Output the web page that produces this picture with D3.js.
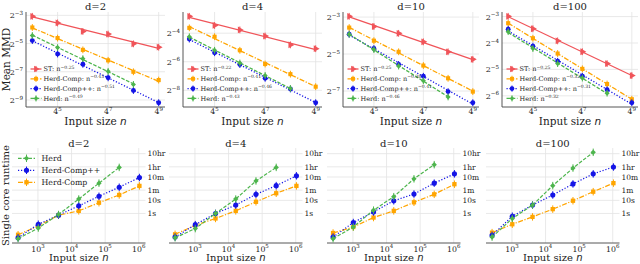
<!DOCTYPE html>
<html>
<head>
<meta charset="utf-8">
<script src="https://cdn.jsdelivr.net/npm/d3@7"></script>
<style>
  body { margin: 0; background: #fff; }
  text { font-family: "DejaVu Serif", serif; fill: #222; }
</style>
</head>
<body>
<svg id="chart" width="640" height="264"></svg>
<script>
// ---- data ----

const dims = ["d=2", "d=4", "d=10", "d=100"];

// MMD experiments: input sizes 4^4 .. 4^9 (Herd stops at 4^8)
const mmdSizes = [256, 1024, 4096, 16384, 65536, 262144];

const stMMD = [
  [0.1191, 0.0860, 0.0567, 0.0497, 0.0308, 0.0261],
  [0.1416, 0.0909, 0.0733, 0.0544, 0.0354, 0.0294],
  [0.1285, 0.0878, 0.0679, 0.0494, 0.0340, 0.0256],
  [0.1259, 0.0909, 0.0661, 0.0497, 0.0364, 0.0266],
];
const herdCompMMD = [
  [0.0688, 0.0409, 0.0229, 0.0137, 0.00781, 0.00519],
  [0.0808, 0.0526, 0.0272, 0.01398, 0.00855, 0.00465],
  [0.0842, 0.0515, 0.0340, 0.0203, 0.0126, 0.00765],
  [0.1051, 0.0708, 0.0474, 0.0317, 0.0213, 0.01428],
];
const herdCompPPMMD = [
  [0.0361, 0.0187, 0.01128, 0.0058, 0.00311, 0.00171],
  [0.0470, 0.0242, 0.0136, 0.00699, 0.00416, 0.00214],
  [0.0656, 0.0385, 0.0212, 0.0136, 0.00765, 0.00505],
  [0.0896, 0.0575, 0.0387, 0.0261, 0.0183, 0.01305],
];
const herdMMD = [
  [0.0464, 0.0256, 0.01488, 0.00798, 0.00419],
  [0.0526, 0.0272, 0.01468, 0.00803, 0.00427],
  [0.0656, 0.0369, 0.0199, 0.01152, 0.00626],
  [0.0842, 0.0540, 0.0364, 0.0249, 0.01675],
];

// fitted rates shown in the legends
const stRates = ["−0.25", "−0.22", "−0.25", "−0.25"];
const herdCompRates = ["−0.43", "−0.41", "−0.38", "−0.32"];
const herdCompPPRates = ["−0.51", "−0.46", "−0.41", "−0.31"];
const herdRates = ["−0.49", "−0.43", "−0.46", "−0.32"];

// tick exponents
const mmdTickExps = [[-3, -5, -7, -9], [-4, -6, -8], [-3, -5, -7], [-3, -4, -5, -6]];
const mmdSizeTickExps = [5, 7, 9];

// runtime experiments: input sizes 4^4 .. 4^10 (Herd stops at 4^9), seconds
const runtimeSizes = [256, 1024, 4096, 16384, 65536, 262144, 1048576];

const herdTime = [
  [0.0120, 0.0776, 0.832, 12.6, 204, 3236],
  [0.0141, 0.0708, 1.0, 12.6, 302, 3236],
  [0.0120, 0.0933, 1.78, 19.1, 437, 5248],
  [0.0158, 0.417, 4.37, 132, 2884, 45709],
];
const herdCompPPTime = [
  [0.0141, 0.151, 0.741, 3.80, 20.4, 100, 550],
  [0.0158, 0.141, 1.0, 4.37, 28.8, 132, 741],
  [0.0158, 0.204, 1.32, 9.33, 30.2, 204, 1047],
  [0.0214, 0.617, 4.37, 25.7, 178, 1047, 3467],
];
const herdCompTime = [
  [0.0240, 0.112, 0.741, 1.58, 6.61, 25.7, 126],
  [0.0257, 0.126, 0.417, 1.58, 7.76, 34.7, 126],
  [0.0324, 0.0933, 0.490, 1.58, 7.08, 28.8, 170],
  [0.0347, 0.151, 0.550, 2.14, 9.33, 45.7, 204],
];

const timeTicks = [1, 10, 60, 600, 3600, 36000];
const timeTickLabels = ["1s", "10s", "1m", "10m", "1hr", "10hr"];
const runtimeSizeTickExps = [3, 4, 5, 6];

// ---- styles ----

const styles = {
  st:     { name: "ST",          color: "#f05459", dash: null,            marker: "tri" },
  comp:   { name: "Herd-Comp",   color: "#ffa500", dash: "5,1.6,1.2,1.6", marker: "square" },
  compPP: { name: "Herd-Comp++", color: "#1414e6", dash: "1.2,1.8",       marker: "circle" },
  herd:   { name: "Herd",        color: "#4db54d", dash: "3.6,1.6",       marker: "diamond" },
};

const svg = d3.select("#chart");

const logPad = ext => {
  const a = Math.log(ext[0]), b = Math.log(ext[1]);
  const m = (b - a) * 0.05;
  return [Math.exp(a - m), Math.exp(b + m)];
};

const markerPath = (kind, s) => {
  if (kind === "tri") return d3.symbol(d3.symbolTriangle, 20 * s)();
  if (kind === "square") return d3.symbol(d3.symbolSquare, 17 * s)();
  if (kind === "circle") return d3.symbol(d3.symbolCircle, 19 * s)();
  return d3.symbol(d3.symbolSquare, 13 * s)();
};
const markerRotate = kind => kind === "tri" ? 90 : kind === "diamond" ? 45 : 0;

function drawMarker(g, style, cx, cy, s = 1) {
  g.append("line")
    .attr("x1", cx).attr("x2", cx)
    .attr("y1", cy - 3.4 * s).attr("y2", cy + 3.4 * s)
    .attr("stroke", style.color).attr("stroke-width", 1);
  g.append("path")
    .attr("d", markerPath(style.marker, s))
    .attr("transform", `translate(${cx},${cy}) rotate(${markerRotate(style.marker)})`)
    .attr("fill", style.color);
}

function supText(g, x, y, base, exp, size, anchor) {
  const t = g.append("text")
    .attr("x", x).attr("y", y)
    .attr("text-anchor", anchor)
    .style("font-size", size + "px");
  t.append("tspan").text(base);
  t.append("tspan").attr("dy", -size * 0.42).style("font-size", (size * 0.7) + "px").text(exp);
  return t;
}

function fitLine(xs, ys) {
  const lx = xs.map(Math.log), ly = ys.map(Math.log);
  const mx = d3.mean(lx), my = d3.mean(ly);
  const b = d3.sum(lx, (v, k) => (v - mx) * (ly[k] - my)) / d3.sum(lx, v => (v - mx) ** 2);
  return v => Math.exp(my + b * (Math.log(v) - mx));
}

const gridColor = "#e3e3e3";
const spineColor = "#444";

// ---- top row: mean MMD ----

const topLeft = [26, 183, 343, 502];
const topRight = [165, 322, 479, 638];
const topY = [12, 107];

dims.forEach((d, i) => {
  const g = svg.append("g");
  const x = d3.scaleLog().domain(logPad(d3.extent(mmdSizes))).range([topLeft[i], topRight[i]]);
  const allVals = [stMMD[i], herdCompMMD[i], herdCompPPMMD[i], herdMMD[i]].flat();
  const y = d3.scaleLog().domain(logPad(d3.extent(allVals))).range([topY[1], topY[0]]);

  // grid
  mmdTickExps[i].forEach(e => {
    g.append("line").attr("x1", topLeft[i]).attr("x2", topRight[i])
      .attr("y1", y(2 ** e)).attr("y2", y(2 ** e))
      .attr("stroke", gridColor).attr("stroke-width", 0.8);
    supText(g, topLeft[i] - 3, y(2 ** e) + 3, "2", "−" + (-e), 8, "end");
  });
  mmdSizeTickExps.forEach(e => {
    g.append("line").attr("x1", x(4 ** e)).attr("x2", x(4 ** e))
      .attr("y1", topY[0]).attr("y2", topY[1])
      .attr("stroke", gridColor).attr("stroke-width", 0.8);
    supText(g, x(4 ** e), 114.3, "4", String(e), 7.8, "middle");
  });

  // spines
  g.append("line").attr("x1", topLeft[i]).attr("x2", topLeft[i])
    .attr("y1", topY[0]).attr("y2", topY[1]).attr("stroke", spineColor).attr("stroke-width", 0.9);
  g.append("line").attr("x1", topLeft[i]).attr("x2", topRight[i])
    .attr("y1", topY[1]).attr("y2", topY[1]).attr("stroke", spineColor).attr("stroke-width", 0.9);

  const series = [
    [styles.st, stMMD[i], stRates[i]],
    [styles.comp, herdCompMMD[i], herdCompRates[i]],
    [styles.compPP, herdCompPPMMD[i], herdCompPPRates[i]],
    [styles.herd, herdMMD[i], herdRates[i]],
  ];

  series.forEach(([st, vals]) => {
    const xs = mmdSizes.slice(0, vals.length);
    const f = fitLine(xs, vals);
    const x0 = xs[0], x1 = xs[xs.length - 1];
    g.append("line")
      .attr("x1", x(x0)).attr("y1", y(f(x0)))
      .attr("x2", x(x1)).attr("y2", y(f(x1)))
      .attr("stroke", st.color).attr("stroke-width", 1.3)
      .attr("stroke-dasharray", st.dash);
    vals.forEach((v, k) => drawMarker(g, st, x(xs[k]), y(v)));
  });

  // legend
  series.forEach(([st, , rate], k) => {
    const ly = 69 + k * 9.8;
    const lx = topLeft[i] + 4.5;
    g.append("line").attr("x1", lx).attr("x2", lx + 11)
      .attr("y1", ly).attr("y2", ly)
      .attr("stroke", st.color).attr("stroke-width", 1.3).attr("stroke-dasharray", st.dash);
    drawMarker(g, st, lx + 5.5, ly, 0.9);
    supText(g, lx + 13, ly + 2.3, st.name + ": n", rate, 6.5, "start");
  });

  // title and labels
  g.append("text").attr("x", (topLeft[i] + topRight[i]) / 2).attr("y", 10)
    .attr("text-anchor", "middle").style("font-size", "10px").text(d);
  const xl = g.append("text").attr("x", (topLeft[i] + topRight[i]) / 2).attr("y", 124.5)
    .attr("text-anchor", "middle").style("font-size", "10.5px");
  xl.append("tspan").text("Input size ");
  xl.append("tspan").style("font-family", "DejaVu Sans").style("font-style", "italic").text("n");
  if (i === 0) {
    g.append("text").attr("transform", `translate(9.5,${(topY[0] + topY[1]) / 2}) rotate(-90)`)
      .attr("text-anchor", "middle").style("font-size", "10.5px").text("Mean MMD");
  }
});

// ---- bottom row: single core runtime ----

const botLeft = [12, 169, 327, 486];
const botRight = [145.5, 302.5, 460.5, 619.5];
const botY = [148, 243];

const allTimes = [herdTime, herdCompPPTime, herdCompTime].flat(2);
const yT = d3.scaleLog().domain(logPad(d3.extent(allTimes))).range([botY[1], botY[0]]);

dims.forEach((d, i) => {
  const g = svg.append("g");
  const x = d3.scaleLog().domain(logPad(d3.extent(runtimeSizes))).range([botLeft[i], botRight[i]]);

  timeTicks.forEach((t, k) => {
    g.append("line").attr("x1", botLeft[i]).attr("x2", botRight[i])
      .attr("y1", yT(t)).attr("y2", yT(t))
      .attr("stroke", gridColor).attr("stroke-width", 0.8);
    g.append("text").attr("x", botRight[i] + 2).attr("y", yT(t) + 2.8)
      .style("font-size", "7.5px").text(timeTickLabels[k]);
  });
  runtimeSizeTickExps.forEach(e => {
    g.append("line").attr("x1", x(10 ** e)).attr("x2", x(10 ** e))
      .attr("y1", botY[0]).attr("y2", botY[1])
      .attr("stroke", gridColor).attr("stroke-width", 0.8);
    supText(g, x(10 ** e), 251.5, "10", String(e), 7.8, "middle");
  });

  g.append("line").attr("x1", botLeft[i]).attr("x2", botRight[i])
    .attr("y1", botY[1]).attr("y2", botY[1]).attr("stroke", spineColor).attr("stroke-width", 0.9);

  const series = [
    [styles.comp, herdCompTime[i]],
    [styles.compPP, herdCompPPTime[i]],
    [styles.herd, herdTime[i]],
  ];
  series.forEach(([st, vals]) => {
    const xs = runtimeSizes.slice(0, vals.length);
    g.append("path")
      .datum(vals)
      .attr("d", d3.line().x((v, k) => x(xs[k])).y(v => yT(v)))
      .attr("fill", "none")
      .attr("stroke", st.color).attr("stroke-width", 1.2)
      .attr("stroke-dasharray", st.dash);
    vals.forEach((v, k) => drawMarker(g, st, x(xs[k]), yT(v), 1.1));
  });

  g.append("text").attr("x", (botLeft[i] + botRight[i]) / 2).attr("y", 146.5)
    .attr("text-anchor", "middle").style("font-size", "10px").text(d);
  const xl = g.append("text").attr("x", (botLeft[i] + botRight[i]) / 2).attr("y", 261)
    .attr("text-anchor", "middle").style("font-size", "10px");
  xl.append("tspan").text("Input size ");
  xl.append("tspan").style("font-family", "DejaVu Sans").style("font-style", "italic").text("n");

  if (i === 0) {
    g.append("text").attr("transform", `translate(9,${(botY[0] + botY[1]) / 2}) rotate(-90)`)
      .attr("text-anchor", "middle").style("font-size", "10px").text("Single core runtime");
    [styles.herd, styles.compPP, styles.comp].forEach((st, k) => {
      const ly = 158.3 + k * 12;
      const lx = botLeft[i] + 6;
      g.append("line").attr("x1", lx).attr("x2", lx + 17)
        .attr("y1", ly).attr("y2", ly)
        .attr("stroke", st.color).attr("stroke-width", 1.3).attr("stroke-dasharray", st.dash);
      drawMarker(g, st, lx + 8.5, ly, 1.1);
      g.append("text").attr("x", lx + 23.5).attr("y", ly + 2.8)
        .style("font-size", "7.8px").text(st.name);
    });
  }
});
</script>
</body>
</html>
